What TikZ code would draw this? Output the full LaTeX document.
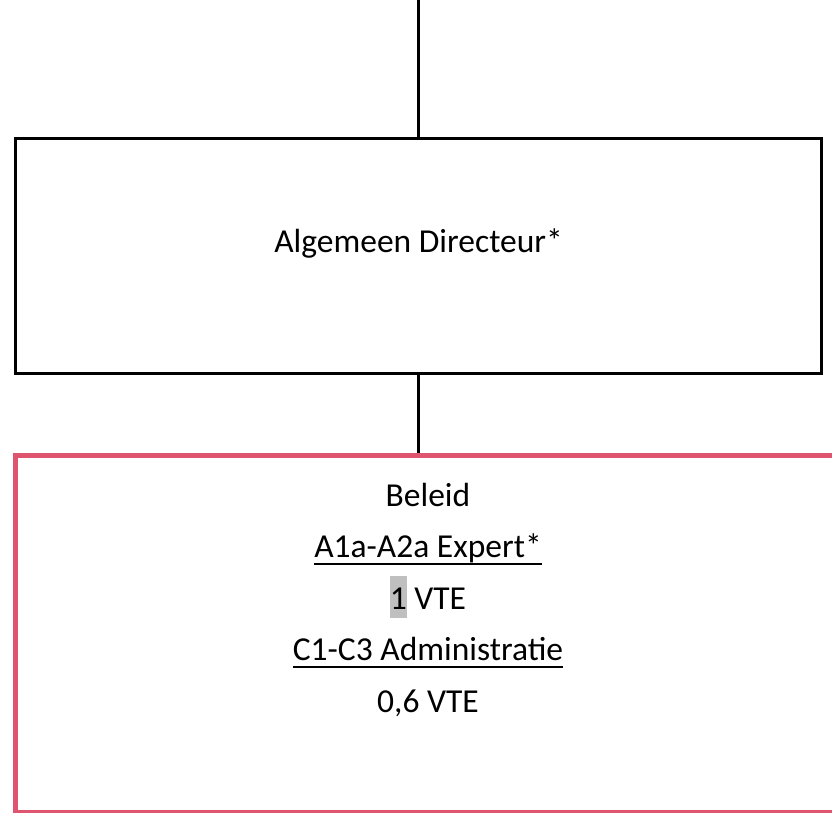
\documentclass[tikz,border=0pt]{standalone}
\usepackage{fontspec}
\setmainfont{Carlito}
\definecolor{pinkborder}{RGB}{223,85,111}
\definecolor{hlgray}{RGB}{191,191,191}
\newcommand\myul[1]{\setbox0\hbox{#1}\rlap{\rule[-7pt]{\wd0}{2pt}}\box0\relax}
\newcommand\myhl[1]{\setbox0\hbox{#1}\rlap{\textcolor{hlgray}{\rule[-9pt]{\wd0}{42pt}}}\box0\relax}
\begin{document}
\begin{tikzpicture}[x=1pt,y=-1pt,
  blackbox/.style={draw=black,line width=3pt,inner sep=0pt,minimum width=806.5pt,minimum height=234pt},
  pinkbox/.style={draw=pinkborder,line width=5pt,inner sep=0pt,minimum width=826pt,minimum height=357.5pt},
  conn/.style={draw=black,line width=3pt},
  txt/.style={anchor=base,inner sep=0pt,font=\fontsize{33.5}{40}\selectfont}]
\useasboundingbox (0,0) rectangle (832,813);
\begin{scope}
\clip (0,0) rectangle (832,813);
\node[blackbox] (dirbox) at (418.25,256) {};
\node[pinkbox] (beleid) at (428,633.75) {};
\coordinate (top) at (418.25,-2);
\draw[conn] (top) -- (dirbox.north);
\draw[conn] (dirbox.south) -- (dirbox.south |- beleid.north);
\node[txt] (dirtext) at (418.5,252) {Algemeen Directeur*};
\node[txt] (t1) at (428,506) {Beleid};
\node[txt] (t2) at (428,557.5) {\myul{A1a-A2a Expert*}};
\node[txt] (t3) at (428,609) {\myhl{1} VTE};
\node[txt] (t4) at (428,660.5) {\myul{C1-C3 Administratie}};
\node[txt] (t5) at (428,712) {0,6 VTE};
\end{scope}
\end{tikzpicture}
\end{document}
